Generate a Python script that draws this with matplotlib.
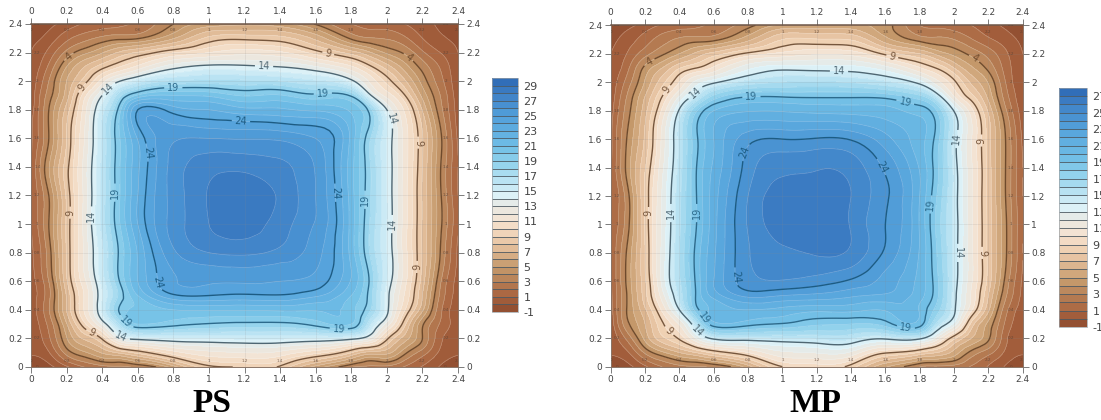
import matplotlib
matplotlib.use('Agg')
import matplotlib.pyplot as plt
import matplotlib.tri as mtri
import numpy as np
from matplotlib.colors import LinearSegmentedColormap

# grid of the temperature table, same for both panels
x_grid = [0, .1, .2, .3, .4, .5, .6, .8, 1, 1.2, 1.4, 1.6, 1.8, 1.9, 2, 2.1, 2.2, 2.3, 2.4]
y_grid = [0, .1, .2, .3, .4, .5, .6, .8, 1, 1.2, 1.4, 1.6, 1.8, 1.9, 2, 2.1, 2.2, 2.3, 2.4]

# values, rows go from y=0 up to y=2.4
ps_values = [
    [-.8, -.3, .8, 2, 2.6, 2.8, 3.2, 5.5, 8.7, 9.1, 8.8, 5.6, 3.1, 2.8, 2.7, 1.9, .9, -.1, -.8],
    [.1, .9, 3.4, 4.8, 6.1, 7.2, 8.3, 10.5, 11.7, 12, 11.7, 10.3, 8, 6.6, 6.3, 4.3, 2.5, .8, .1],
    [.2, 1.8, 4.9, 7.2, 9.2, 13.3, 14.5, 15, 15.1, 15.2, 15.2, 15, 14.5, 13, 9.3, 6.5, 4, 1.3, .2],
    [.3, 2.3, 5.9, 9.7, 13.1, 17.3, 20, 19.4, 18.9, 18.7, 18.7, 19.4, 20, 16.5, 12.6, 8.3, 4.2, 1.9, .3],
    [.4, 2.9, 7, 11.1, 15.2, 19.2, 20.4, 21, 21.1, 21.1, 21.2, 21.1, 20.4, 18.3, 14.4, 10.1, 6.2, 2.3, .4],
    [.5, 2.7, 7.1, 11.1, 14.9, 18.4, 21, 23.8, 24, 23.8, 23.9, 23.2, 21, 18.7, 14.5, 10.9, 7, 2.8, .5],
    [.6, 3, 7.8, 11.7, 15.4, 19.1, 22, 24.9, 25.1, 25.1, 25, 24.6, 21.9, 19, 15, 11.4, 7.5, 3.2, .6],
    [.8, 3.5, 8.1, 12.2, 15.8, 19.3, 22.1, 25.8, 27, 27.2, 26.7, 25.4, 21.6, 18.1, 15, 11.5, 7.9, 4, .8],
    [1, 4, 8.2, 12.4, 16.4, 20, 23, 26.4, 28, 28.5, 27.5, 25.9, 21.6, 18.1, 15, 11.5, 7.9, 4.3, 1.2],
    [1.2, 4, 8.2, 12.3, 16.3, 20, 23, 26.4, 28.1, 28.9, 27.8, 26, 21.5, 18.3, 15, 11.5, 7.9, 4.2, 1],
    [1, 4.9, 8.6, 12.4, 16.3, 20, 22.8, 26.4, 27.6, 27.7, 27.2, 25.9, 21.4, 18.3, 15, 11.6, 8, 4.1, 1],
    [.8, 4, 8, 12, 16.1, 20, 23.1, 25.8, 26, 25.9, 25.8, 25, 21.7, 18.3, 15, 11.6, 8.1, 4.3, .8],
    [.5, 4, 7.4, 11.5, 15.5, 19.7, 24, 23.5, 23, 22.3, 22.2, 21.8, 20.8, 18.7, 14, 10.8, 6.9, 3.4, .5],
    [.3, 3.5, 6.5, 10.6, 14, 17.7, 20.2, 21, 20.8, 19.9, 20.1, 19.3, 18.8, 14.6, 11.6, 9.1, 5.7, 3, .3],
    [.2, 3, 6, 8.5, 11.5, 14, 15.5, 17.1, 17.4, 17.2, 17, 16.2, 14.4, 11.9, 9.6, 7.2, 4.6, 2.4, .2],
    [.1, 2.2, 5, 7, 8.6, 10, 11.3, 13.6, 14.4, 14.3, 14, 13.1, 11.2, 9.4, 7.5, 5.5, 3.6, 1.9, .1],
    [0, 1.3, 3.3, 4.7, 5.9, 7.2, 8.1, 9.9, 11, 11.6, 11.2, 9.5, 7.5, 6.2, 4.8, 3.8, 2.2, 1, 0],
    [-.3, .4, 1.7, 2.6, 3.3, 3.7, 3.9, 5.9, 8.3, 8.7, 8.4, 6.7, 3.8, 3.1, 2.9, 2.2, 1, .2, -.3],
    [-.8, -.3, .4, 1.1, 1.5, 1.8, 2.2, 4, 5.4, 5.8, 5.4, 3.9, 2, 1.6, 1.4, 1, .4, -.2, -.8],
]

mp_values = [
    [-.8, -.3, .8, 2, 2.7, 2.9, 3.2, 5.5, 9, 9.5, 8.5, 5.1, 3, 2.8, 2.6, 1.9, .9, -.1, -.8],
    [.1, .9, 3.2, 4.8, 6, 7.1, 8.3, 10, 11.8, 12.1, 11.8, 9.2, 7.9, 7, 5.6, 3.7, 2.4, .8, .1],
    [.2, 2.4, 5.3, 7.7, 9.2, 12.1, 14.4, 14.8, 15, 15.2, 15.2, 14.3, 14.4, 11.6, 8.3, 6, 4.2, 1.3, .2],
    [.3, 3.8, 6, 8.8, 11.1, 15.6, 19.6, 19.4, 18.9, 18.2, 18, 18.5, 19.5, 15.7, 12.6, 7.7, 4.7, 1.8, .3],
    [.5, 4.2, 6.8, 10.2, 14, 18.6, 20.3, 21, 20.7, 20.3, 20.3, 20.1, 19.9, 17.5, 14.3, 10.2, 6.2, 2.4, .5],
    [.7, 4.2, 7.6, 11.5, 15.3, 19.2, 21.4, 23.3, 23, 22.7, 22.2, 21.8, 20.4, 18.3, 14.5, 10.9, 7, 3.2, .7],
    [.8, 4.4, 7.8, 12.3, 15.8, 19.3, 22, 24.6, 24.9, 24.5, 23.8, 22.6, 20.6, 18.3, 14.7, 11.2, 7.6, 3.7, .8],
    [.9, 4.3, 8, 12.3, 16, 19.4, 21.8, 24.9, 25.9, 26.1, 25.8, 23.8, 20.9, 18, 14.7, 11.3, 7.7, 4.2, 1],
    [1, 3.7, 8.1, 12.2, 15.8, 19, 21.6, 25.1, 26.5, 26.8, 25.9, 24, 20.9, 17.7, 14.7, 11.3, 7.7, 4.2, 1.1],
    [1, 3.7, 8.1, 12.1, 15.7, 19, 21.5, 25, 26.5, 26.7, 26, 24.2, 21, 18, 14.7, 11.2, 7.6, 4, 1],
    [.9, 4.5, 7.9, 11.7, 15.4, 19, 21.2, 24.5, 25.7, 25.9, 25.6, 23.8, 20.9, 18.3, 14.7, 11.2, 7.6, 4, 1],
    [.7, 4.2, 7.2, 11.3, 15.3, 18.8, 21, 23.6, 24, 24.1, 23.9, 22.4, 20.4, 18.5, 14.6, 11.1, 7.5, 4, .8],
    [.5, 3.6, 6.6, 10.2, 14.2, 17.9, 20, 20.9, 20.9, 20.7, 20.6, 20.4, 19.6, 18, 13.9, 10.4, 6.8, 3.2, .4],
    [.3, 3.2, 6, 9, 12, 14.9, 17.3, 18.9, 18.9, 18.8, 18.8, 18.6, 17.3, 14.9, 11, 8.4, 5.7, 2.5, .2],
    [.2, 2.5, 5.1, 7.6, 10, 12.4, 13.7, 15.4, 16, 16.1, 15.9, 15.2, 13.5, 11.4, 9.3, 6.8, 4.9, 2, .1],
    [.1, 1.8, 4.3, 6, 7.9, 9, 10.2, 12.7, 13.6, 13.5, 13.4, 12.4, 10.1, 8.9, 7, 5.2, 3.7, 1.6, .1],
    [0, 1.1, 2.6, 3.8, 5, 6.3, 7.4, 9.3, 10.3, 10.8, 10.6, 8.7, 7, 5.7, 4.7, 3.7, 2.6, 1.2, 0],
    [-.3, .5, 1.5, 2.5, 3.2, 3.5, 3.7, 5.7, 8, 8.1, 7.9, 5.4, 3.6, 3.3, 3, 2.1, 1.2, .5, -.3],
    [-.8, -.3, .4, 1.1, 1.5, 1.8, 2.2, 3.6, 5.2, 5.4, 5.3, 4.4, 2, 1.7, 1.4, 1, .4, -.2, -.8],
]

axis_ticks = [0, .2, .4, .6, .8, 1, 1.2, 1.4, 1.6, 1.8, 2, 2.2, 2.4]
line_levels = [4, 9, 14, 19, 24]
line_colors = ['#6e4a2c', '#76563c', '#4e6672', '#2c6a8c', '#1c5c84']
panel_names = ['PS', 'MP']

ps_levels = list(range(-1, 31))
mp_levels = list(range(-1, 29))
ps_bar_ticks = list(range(-1, 30, 2))
mp_bar_ticks = list(range(-1, 28, 2))

# where the contour labels sit
ps_label_spots = [(.22, 2.16), (2.13, 2.18), (.29, 1.95), (1.67, 2.19), (2.17, 1.57), (2.17, .7), (.22, 1.08),
                  (.34, .24), (.44, 1.94), (1.31, 2.11), (2.02, 1.73), (2.03, 1.0), (.34, 1.06), (.51, .22),
                  (.8, 1.94), (1.64, 1.915), (.47, 1.22), (1.89, 1.17), (.53, .31), (1.73, .27),
                  (.65, 1.5), (1.18, 1.72), (1.72, 1.22), (.68, .59)]
mp_label_spots = [(.23, 2.13), (2.13, 2.19), (.32, 1.95), (1.64, 2.18), (2.16, 1.59), (2.16, .8), (.22, 1.08),
                  (.33, .24), (.49, 1.93), (1.33, 2.08), (2.02, 1.6), (2.02, .8), (.345, 1.08), (.5, .24),
                  (.82, 1.89), (1.72, 1.88), (.5, 1.08), (1.87, 1.14), (.53, .33), (1.72, .28),
                  (.8, 1.5), (1.57, 1.4), (.69, .63)]

# colour stops, the MP bar spreads the same stops over its own range
bar_colors = [(-1, '#8c4a2e'), (1, '#a8623e'), (3, '#b67f55'), (5, '#c59a6c'), (7, '#dcb58f'), (9, '#efd0b2'),
              (11, '#f5e2d0'), (13, '#e9e9e3'), (14.5, '#ddf1f7'), (16, '#c3e7f4'), (19, '#8fd1ec'), (21, '#70bee6'),
              (24, '#5aa8de'), (26, '#4c97d5'), (28, '#3f80c6'), (30, '#2c68b4')]
low, high = bar_colors[0][0], bar_colors[-1][0]
cmap = LinearSegmentedColormap.from_list('brown_blue', [((v - low) / (high - low), c) for v, c in bar_colors])

W, H = 1101, 420
fig = plt.figure(figsize=(W / 100, H / 100), dpi=100)


def grid_triangles():
    nx, ny = len(x_grid), len(y_grid)
    tris = []
    for j in range(ny - 1):
        for i in range(nx - 1):
            a = j * nx + i
            tris.append([a, a + 1, a + nx])
            tris.append([a + 1, a + nx + 1, a + nx])
    xx, yy = np.meshgrid(x_grid, y_grid)
    return mtri.Triangulation(xx.ravel(), yy.ravel(), tris)


def draw_panel(box, bar_box, values, levels, bar_ticks, label_spots, name, name_x):
    ax = fig.add_axes([box[0] / W, 1 - box[3] / H, (box[2] - box[0]) / W, (box[3] - box[1]) / H])
    # rounds the contours between the table's nodes
    refiner = mtri.UniformTriRefiner(grid_triangles())
    fine_tri, fine_z = refiner.refine_field(np.array(values, dtype=float).ravel(), subdiv=3)
    fine_z = np.clip(fine_z, levels[0] + .01, levels[-1] - .01)

    filled = ax.tricontourf(fine_tri, fine_z, levels=levels, cmap=cmap, vmin=levels[0], vmax=levels[-1])
    ax.tricontour(fine_tri, fine_z, levels=levels, colors='white', linewidths=.45, alpha=.3)
    lines = ax.tricontour(fine_tri, fine_z, levels=line_levels, colors=line_colors, linewidths=1)
    ax.clabel(lines, fmt='%d', fontsize=7, inline_spacing=3, manual=label_spots)

    ax.set_xlim(0, 2.4)
    ax.set_ylim(0, 2.4)
    ax.set_xticks(axis_ticks)
    ax.set_yticks(axis_ticks)
    ax.set_xticklabels(['%g' % t for t in axis_ticks])
    ax.set_yticklabels(['%g' % t for t in axis_ticks])
    ax.tick_params(top=True, right=True, labeltop=True, labelright=True, labelsize=6.5, length=4, width=.6,
                   color='#666666', labelcolor='#444444', pad=2)
    ax.grid(True, color='#8a8a8a', linewidth=.4, alpha=.25)
    for s in ax.spines.values():
        s.set_color('#8a7466')
        s.set_linewidth(.7)
    ax.spines['top'].set_color('#6e5648')
    ax.spines['top'].set_linewidth(1.1)

    # tiny repeated tick numbers just inside the frame
    for t in axis_ticks:
        for px, py in [(t, .045), (t, 2.355), (.035, t), (2.33, t)]:
            ax.text(px, py, '%g' % t, fontsize=3, color='#5a4030', ha='center', va='center', alpha=.75, clip_on=True)

    cax = fig.add_axes([bar_box[0] / W, 1 - bar_box[3] / H, (bar_box[2] - bar_box[0]) / W, (bar_box[3] - bar_box[1]) / H])
    bar = fig.colorbar(filled, cax=cax, ticks=bar_ticks, drawedges=True)
    bar.dividers.set_color('#4d5a63')
    bar.dividers.set_linewidth(.6)
    bar.outline.set_edgecolor('#9aa0a4')
    bar.outline.set_linewidth(.5)
    bar.ax.tick_params(length=0, labelsize=8, labelcolor='#444444', pad=4)
    bar.ax.set_yticklabels(['%d' % t for t in bar_ticks])

    fig.text(name_x / W, 1 - 404 / H, name, family='Liberation Serif', weight='bold', fontsize=24, color='black',
             ha='center', va='center')


draw_panel((31, 24, 458, 367), (492, 78, 518, 312), ps_values, ps_levels, ps_bar_ticks, ps_label_spots, panel_names[0], 212)
draw_panel((610.7, 25.3, 1022.7, 366.7), (1059, 88, 1087, 327), mp_values, mp_levels, mp_bar_ticks, mp_label_spots, panel_names[1], 815)

fig.savefig('out.png', dpi=100)
